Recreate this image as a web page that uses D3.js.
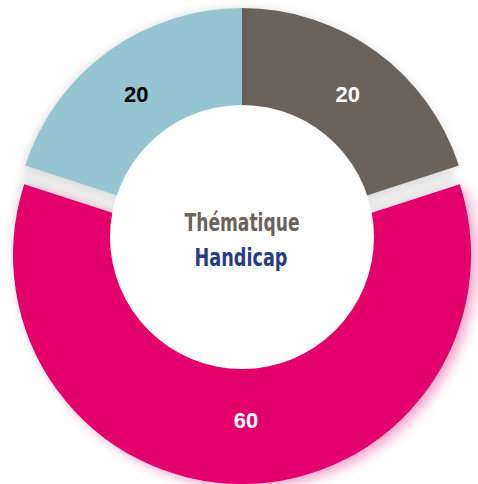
<!DOCTYPE html>
<html>
<head>
<meta charset="utf-8">
<script src="https://cdn.jsdelivr.net/npm/d3@7"></script>
<style>
  html, body { margin: 0; padding: 0; background: #fff; }
  svg { display: block; }
</style>
</head>
<body>
<svg id="main-svg" width="478" height="484"></svg>
<script>
(function() {

    // data
    var categories = ["Gris", "Rose", "Bleu"];
    var values = [20, 60, 20];
    var colors = ["#6b625c", "#e3006d", "#95c4d3"];
    var labelColors = ["#ffffff", "#ffffff", "#000000"];
    var title = ["Thématique", "Handicap"];

    var cx = 242, cy = 236;
    var outer = 228, inner = 132;
    var pull = 19; // the big slice is pulled out

    var svg = d3.select("#main-svg");
    var defs = svg.append("defs");

    var blur = defs.append("filter").attr("id", "ring-blur")
        .attr("x", "-20%").attr("y", "-20%").attr("width", "140%").attr("height", "140%");
    blur.append("feGaussianBlur").attr("stdDeviation", 5);

    var grey = defs.append("filter").attr("id", "shadow-grey")
        .attr("x", "-20%").attr("y", "-20%").attr("width", "140%").attr("height", "140%");
    grey.append("feDropShadow").attr("dx", 0).attr("dy", 0).attr("stdDeviation", 5)
        .attr("flood-color", "#000").attr("flood-opacity", 0.12);

    var pink = defs.append("filter").attr("id", "shadow-pink")
        .attr("x", "-20%").attr("y", "-20%").attr("width", "140%").attr("height", "140%");
    pink.append("feDropShadow").attr("dx", 6).attr("dy", 4).attr("stdDeviation", 6)
        .attr("flood-color", "#e3006d").attr("flood-opacity", 0.35);

    var g = svg.append("g").attr("transform", "translate(" + cx + "," + cy + ")");

    // grey ring seen in the gaps
    g.append("circle")
        .attr("cx", -4).attr("cy", 4)
        .attr("r", outer - 2)
        .attr("fill", "#ebebeb")
        .attr("filter", "url(#ring-blur)");

    var pie = d3.pie().sort(null).value(function(d) { return d; });
    var arcs = pie(values);

    var arc = d3.arc().innerRadius(inner - 4).outerRadius(outer);
    var bigArc = d3.arc().innerRadius(100).outerRadius(outer + 1);
    var labelArc = d3.arc().innerRadius(inner + 48).outerRadius(inner + 48);

    var biggest = d3.maxIndex(values);

    g.selectAll(".slice")
        .data(arcs)
        .enter()
        .append("path")
        .classed("slice", true)
        .attr("d", function(d, i) { return i === biggest ? bigArc(d) : arc(d); })
        .attr("transform", function(d, i) {
            if (i !== biggest) return null;
            var a = (d.startAngle + d.endAngle) / 2;
            return "translate(" + (Math.sin(a) * pull) + "," + (-Math.cos(a) * pull) + ")";
        })
        .attr("fill", function(d, i) { return colors[i]; })
        .attr("filter", function(d, i) { return i === biggest ? "url(#shadow-pink)" : "url(#shadow-grey)"; });

    // hole
    g.append("circle")
        .attr("cx", 0).attr("cy", 1)
        .attr("r", inner)
        .attr("fill", "#ffffff");

    g.selectAll(".val")
        .data(arcs)
        .enter()
        .append("text")
        .classed("val", true)
        .attr("x", function(d, i) { return labelArc.centroid(d)[0] + (i === biggest ? 4 : 0); })
        .attr("y", function(d) { return labelArc.centroid(d)[1] + 12; })
        .attr("text-anchor", "middle")
        .attr("font-family", "Liberation Sans, Arial, sans-serif")
        .attr("font-weight", "bold")
        .attr("font-size", 22)
        .attr("fill", function(d, i) { return labelColors[i]; })
        .text(function(d) { return d.data; });

    g.append("text")
        .attr("x", 0).attr("y", -5)
        .attr("text-anchor", "middle")
        .attr("font-family", "Liberation Sans Narrow, DejaVu Sans Condensed, sans-serif")
        .attr("font-weight", "bold")
        .attr("font-size", 25)
        .attr("textLength", 115)
        .attr("lengthAdjust", "spacingAndGlyphs")
        .attr("fill", "#6b625c")
        .text(title[0]);

    g.append("text")
        .attr("x", -1).attr("y", 30)
        .attr("text-anchor", "middle")
        .attr("font-family", "Liberation Sans Narrow, DejaVu Sans Condensed, sans-serif")
        .attr("font-weight", "bold")
        .attr("font-size", 25)
        .attr("textLength", 93)
        .attr("lengthAdjust", "spacingAndGlyphs")
        .attr("fill", "#2b3a87")
        .text(title[1]);
})();
</script>
</body>
</html>
